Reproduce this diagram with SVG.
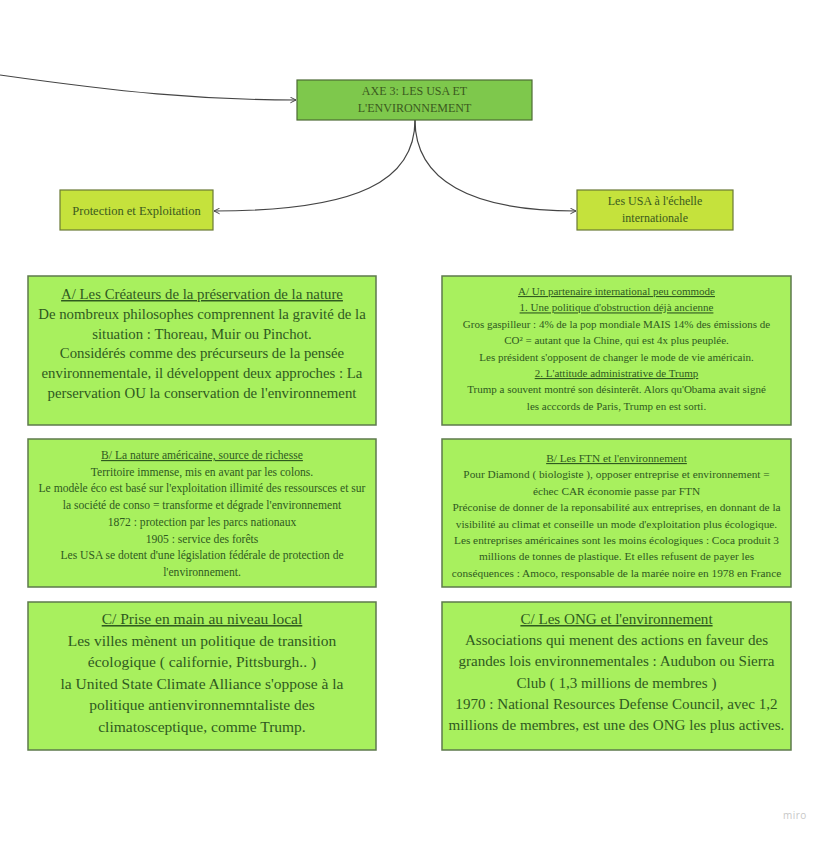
<svg xmlns="http://www.w3.org/2000/svg" width="828" height="841" viewBox="0 0 828 841">
<style>
.bg{fill:#ffffff}
.main{fill:#7ec84c;stroke:#4d6b35;stroke-width:1.2}
.sub{fill:#c5e23c;stroke:#6a7a35;stroke-width:1.2}
.box{fill:#a8f05e;stroke:#5d7a4c;stroke-width:1.5}
text{font-family:"Liberation Serif","DejaVu Serif",serif;fill:#2f5a1f;text-anchor:middle}
.t1{font-size:14.8px}
.t1c{font-size:15.5px}
.t1r{font-size:15.1px}
.t2{font-size:11px}
.t2b{font-size:11.6px}
.t2r{font-size:11.3px}
.tn{font-size:12px;fill:#3b5a1e}
.tp{font-size:12.5px;fill:#3b5a1e}
.u{text-decoration:underline}
.conn{fill:none;stroke:#444;stroke-width:1.2}
.miro{font-family:"Open Sans","DejaVu Sans",sans-serif;font-size:10px;fill:#c8c8c8;text-anchor:start;letter-spacing:0.5px}
</style>
<defs>
<marker id="arr" viewBox="0 0 10 10" refX="9" refY="5" markerWidth="7" markerHeight="7" orient="auto-start-reverse" markerUnits="userSpaceOnUse">
<path d="M1,1 L9,5 L1,9" fill="none" stroke="#444" stroke-width="1.4"/>
</marker>
</defs>
<rect class="bg" x="0" y="0" width="828" height="841"/>
<g id="connectors">
<path class="conn" d="M0,75 C120,92 200,100 296,100" marker-end="url(#arr)"/>
<path class="conn" d="M415,120 C415,180 360,211 214,211" marker-end="url(#arr)"/>
<path class="conn" d="M415,120 C415,180 470,211 576,211" marker-end="url(#arr)"/>
</g>
<g id="axe3">
<rect class="main" x="297" y="80" width="235" height="40"/>
<text class="tn" x="414.5" y="95">AXE 3: LES USA ET</text>
<text class="tn" x="414.5" y="112">L'ENVIRONNEMENT</text>
</g>
<g id="protection">
<rect class="sub" x="60" y="190" width="153" height="40"/>
<text class="tp" x="136.5" y="214.5">Protection et Exploitation</text>
</g>
<g id="usa-internationale">
<rect class="sub" x="577" y="190" width="156" height="40"/>
<text class="tn" x="655" y="205">Les USA à l'échelle</text>
<text class="tn" x="655" y="222">internationale</text>
</g>
<g id="left-a">
<rect class="box" x="28" y="276" width="348" height="149"/>
<text class="t1 u" x="202" y="299">A/ Les Créateurs de la préservation de la nature</text>
<text class="t1" x="202" y="318.8">De nombreux philosophes comprennent la gravité de la</text>
<text class="t1" x="202" y="338.6">situation : Thoreau, Muir ou Pinchot.</text>
<text class="t1" x="202" y="358.4">Considérés comme des précurseurs de la pensée</text>
<text class="t1" x="202" y="378.2">environnementale, il développent deux approches : La</text>
<text class="t1" x="202" y="398">perservation OU la conservation de l'environnement</text>
</g>
<g id="right-a">
<rect class="box" x="442" y="276" width="349" height="149"/>
<text class="t2 u" x="616.5" y="295">A/ Un partenaire international peu commode</text>
<text class="t2 u" x="616.5" y="311.4">1. Une politique d'obstruction déjà ancienne</text>
<text class="t2" x="616.5" y="327.8">Gros gaspilleur : 4% de la pop mondiale MAIS 14% des émissions de</text>
<text class="t2" x="616.5" y="344.2">CO² = autant que la Chine, qui est 4x plus peuplée.</text>
<text class="t2" x="616.5" y="360.6">Les président s'opposent de changer le mode de vie américain.</text>
<text class="t2 u" x="616.5" y="377">2. L'attitude administrative de Trump</text>
<text class="t2" x="616.5" y="393.4">Trump a souvent montré son désinterêt. Alors qu'Obama avait signé</text>
<text class="t2" x="616.5" y="409.8">les acccords de Paris, Trump en est sorti.</text>
</g>
<g id="left-b">
<rect class="box" x="28" y="439" width="348" height="148"/>
<text class="t2b u" x="202" y="459">B/ La nature américaine, source de richesse</text>
<text class="t2b" x="202" y="475.7">Territoire immense, mis en avant par les colons.</text>
<text class="t2b" x="202" y="492.4">Le modèle éco est basé sur l'exploitation illimité des ressoursces et sur</text>
<text class="t2b" x="202" y="509.1">la société de conso = transforme et dégrade l'environnement</text>
<text class="t2b" x="202" y="525.8">1872 : protection par les parcs nationaux</text>
<text class="t2b" x="202" y="542.5">1905 : service des forêts</text>
<text class="t2b" x="202" y="559.2">Les USA se dotent d'une législation fédérale de protection de</text>
<text class="t2b" x="202" y="575.9">l'environnement.</text>
</g>
<g id="right-b">
<rect class="box" x="442" y="439" width="349" height="148"/>
<text class="t2r u" x="616.5" y="462">B/ Les FTN et l'environnement</text>
<text class="t2r" x="616.5" y="478.4">Pour Diamond ( biologiste ), opposer entreprise et environnement =</text>
<text class="t2r" x="616.5" y="494.8">échec CAR économie passe par FTN</text>
<text class="t2r" x="616.5" y="511.2">Préconise de donner de la reponsabilité aux entreprises, en donnant de la</text>
<text class="t2r" x="616.5" y="527.6">visibilité au climat et conseille un mode d'exploitation plus écologique.</text>
<text class="t2r" x="616.5" y="544">Les entreprises américaines sont les moins écologiques : Coca produit 3</text>
<text class="t2r" x="616.5" y="560.4">millions de tonnes de plastique. Et elles refusent de payer les</text>
<text class="t2r" x="616.5" y="576.8">conséquences : Amoco, responsable de la marée noire en 1978 en France</text>
</g>
<g id="left-c">
<rect class="box" x="28" y="602" width="348" height="148"/>
<text class="t1c u" x="202" y="624">C/ Prise en main au niveau local</text>
<text class="t1c" x="202" y="645.6">Les villes mènent un politique de transition</text>
<text class="t1c" x="202" y="667.2">écologique ( californie, Pittsburgh.. )</text>
<text class="t1c" x="202" y="688.8">la United State Climate Alliance  s'oppose à la</text>
<text class="t1c" x="202" y="710.4">politique antienvironnemntaliste des</text>
<text class="t1c" x="202" y="732">climatosceptique, comme Trump.</text>
</g>
<g id="right-c">
<rect class="box" x="442" y="602" width="349" height="148"/>
<text class="t1r u" x="616.5" y="624">C/ Les ONG et l'environnement</text>
<text class="t1r" x="616.5" y="645.2">Associations qui menent des actions en faveur des</text>
<text class="t1r" x="616.5" y="666.4">grandes lois environnementales : Audubon ou Sierra</text>
<text class="t1r" x="616.5" y="687.6">Club ( 1,3 millions de membres )</text>
<text class="t1r" x="616.5" y="708.8">1970 : National Resources Defense Council, avec 1,2</text>
<text class="t1r" x="616.5" y="730">millions de membres, est une des ONG les plus actives.</text>
</g>
<text class="miro" x="783" y="819">miro</text>
</svg>
